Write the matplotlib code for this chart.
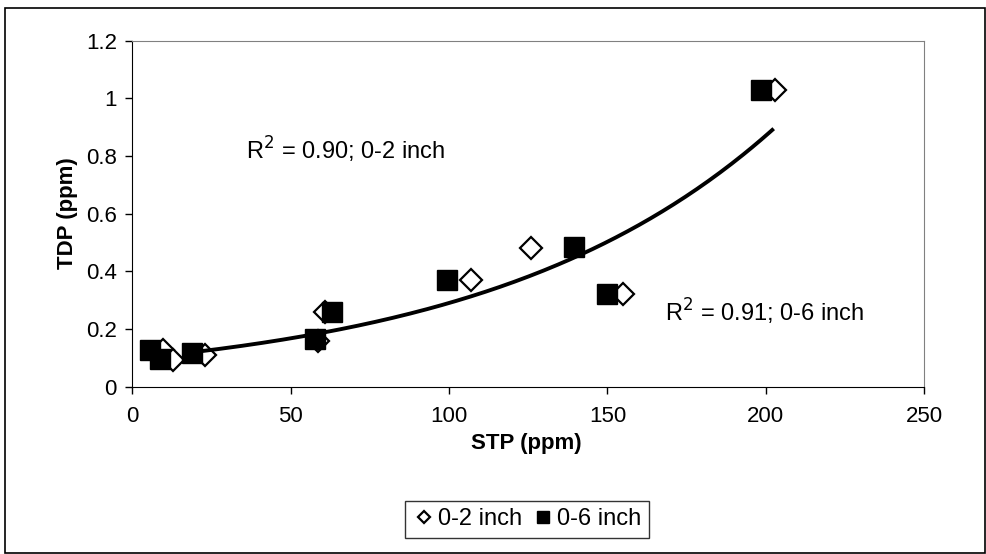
import numpy as np
import matplotlib
matplotlib.use('Agg')
import matplotlib.pyplot as plt
from matplotlib.patches import Rectangle

plt.rcParams['font.family'] = ['Liberation Sans', 'DejaVu Sans']

# 0-2 inch samples
stp_02 = [9.7, 12.9, 22.9, 58.7, 60.8, 107, 126, 155, 202.8]
tdp_02 = [0.127, 0.092, 0.109, 0.159, 0.26, 0.37, 0.48, 0.32, 1.03]

# 0-6 inch samples
stp_06 = [5.5, 8.7, 18.7, 57.6, 62.9, 99.4, 139.4, 149.7, 198.6]
tdp_06 = [0.127, 0.094, 0.115, 0.164, 0.26, 0.37, 0.483, 0.32, 1.03]

# exponential trendline: y = a * exp(b * x)
trend_a = 0.0965
trend_b = 0.0110
trend_x0, trend_x1 = 20, 202

fig = plt.figure(figsize=(9.87, 5.54), dpi=100)
ax = fig.add_axes([0.134, 0.3023, 0.8025, 0.6242])

ax.plot(stp_02, tdp_02, linestyle='none', marker='D', ms=11, mfc='white',
        mec='black', mew=1.6, zorder=3, label='0-2 inch')
ax.plot(stp_06, tdp_06, linestyle='none', marker='s', ms=14, mfc='black',
        mec='black', zorder=4, label='0-6 inch')

tx = np.linspace(trend_x0, trend_x1, 200)
ax.plot(tx, trend_a * np.exp(trend_b * tx), color='black', lw=2.8, zorder=5)

ax.set_xlim(0, 250)
ax.set_ylim(0, 1.2)
ax.set_xticks([0, 50, 100, 150, 200, 250])
ax.set_yticks([0, 0.2, 0.4, 0.6, 0.8, 1, 1.2])
ax.set_yticklabels(['0', '0.2', '0.4', '0.6', '0.8', '1', '1.2'])
ax.tick_params(direction='out', length=5, width=1, labelsize=16, colors='black')
ax.tick_params(axis='x', pad=9)
ax.tick_params(axis='y', pad=6)

ax.spines['left'].set_color('black')
ax.spines['bottom'].set_color('black')
ax.spines['top'].set_color('#808080')
ax.spines['right'].set_color('#808080')

ax.set_xlabel('STP (ppm)', fontsize=16, fontweight='bold', va='center')
ax.set_ylabel('TDP (ppm)', fontsize=16, fontweight='bold', va='center')
ax.xaxis.set_label_coords(0.497, -0.165)
ax.yaxis.set_label_coords(-0.082, 0.5)

ax.text(36, 0.82, r'R$^2$ = 0.90; 0-2 inch', fontsize=17, va='center')
ax.text(168, 0.26, r'R$^2$ = 0.91; 0-6 inch', fontsize=17, va='center')

leg = ax.legend(loc='upper center', bbox_to_anchor=(0.498, -0.298), ncol=2,
                fontsize=17, frameon=True, fancybox=False, handletextpad=0.1,
                columnspacing=0.4, handlelength=1.0, borderpad=0.3, markerscale=0.6)
leg.get_frame().set_edgecolor('black')
leg.get_frame().set_linewidth(1)

fig.patches.append(Rectangle((0.005, 0.002), 0.993, 0.983, transform=fig.transFigure,
                             fill=False, edgecolor='black', lw=1.2))

fig.savefig('out.png', dpi=100)
